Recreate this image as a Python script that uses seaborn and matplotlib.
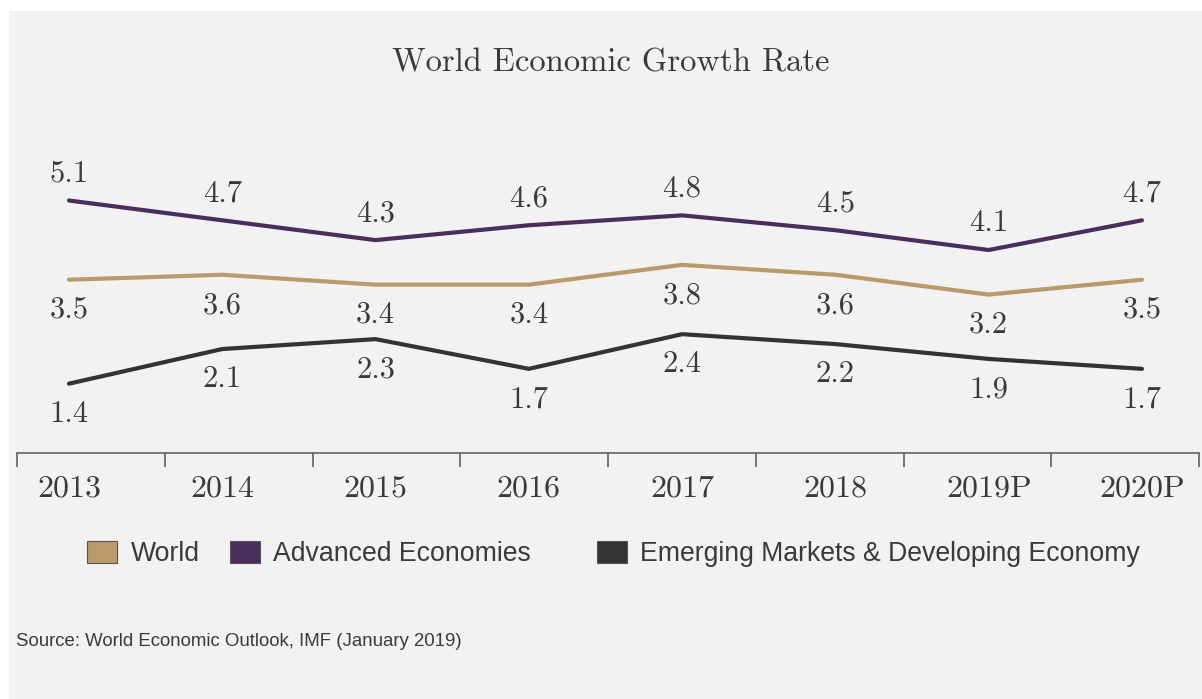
import matplotlib
matplotlib.use("Agg")
import matplotlib.pyplot as plt
from matplotlib.patches import Patch, Rectangle
import numpy as np
import pandas as pd
import seaborn as sns

# ---- data ----
years = ["2013", "2014", "2015", "2016", "2017", "2018", "2019P", "2020P"]
world = [3.5, 3.6, 3.4, 3.4, 3.8, 3.6, 3.2, 3.5]
advanced = [5.1, 4.7, 4.3, 4.6, 4.8, 4.5, 4.1, 4.7]
emerging = [1.4, 2.1, 2.3, 1.7, 2.4, 2.2, 1.9, 1.7]
series_names = ["World", "Advanced Economies", "Emerging Markets & Developing Economy"]
title = "World Economic Growth Rate"
source = "Source: World Economic Outlook, IMF (January 2019)"

colors = {"World": "#b99a6a",
          "Advanced Economies": "#4b2d5b",
          "Emerging Markets & Developing Economy": "#333333"}
label_offset = {"World": -22, "Advanced Economies": 19,
                "Emerging Markets & Developing Economy": -22}

sns.set_theme(style="white")
plt.rcParams["font.family"] = ["Liberation Sans", "DejaVu Sans"]

W, H = 1202, 699
fig = plt.figure(figsize=(W / 100, H / 100), dpi=100)
fig.patch.set_facecolor("white")
fig.patches.append(Rectangle((9 / W, 0), 1 - 9 / W, (H - 11) / H,
                             transform=fig.transFigure, facecolor="#f2f2f2",
                             edgecolor="none", zorder=-10))

ax = fig.add_axes([17 / W, (H - 453) / H, (1199 - 17) / W, (453 - 150) / H])
ax.set_facecolor("none")

pos = list(range(len(years)))
df = pd.DataFrame({
    "pos": pos * 3,
    "value": world + advanced + emerging,
    "series": [series_names[0]] * len(years) + [series_names[1]] * len(years)
              + [series_names[2]] * len(years),
})

sns.lineplot(data=df, x="pos", y="value", hue="series", palette=colors,
             hue_order=series_names, linewidth=3, legend=False, ax=ax)

txtcol = "#3a3a3a"
for name, vals in zip(series_names, [world, advanced, emerging]):
    off = label_offset[name]
    for x, v in zip(pos, vals):
        ax.annotate(f"{v:.1f}", (x, v), xytext=(0, off),
                    textcoords="offset points", ha="center", va="center",
                    fontsize=22, color=txtcol, family="cmr10")

xl = (-0.339, 7.372)
ax.set_xlim(*xl)
ax.set_ylim(0, 6.12)
ax.set_xticks(pos)
ax.set_xticklabels(years, family="cmr10", fontsize=23, color=txtcol)
ax.set_xticks(np.linspace(xl[0], xl[1], 9), minor=True)
ax.tick_params(axis="x", which="major", length=0, pad=16)
ax.tick_params(axis="x", which="minor", length=10, width=1.1,
               color="#555555", direction="out", bottom=True)
ax.set_yticks([])
ax.set_xlabel("")
ax.set_ylabel("")
for s in ["left", "right", "top"]:
    ax.spines[s].set_visible(False)
ax.spines["bottom"].set_color("#555555")
ax.spines["bottom"].set_linewidth(1.1)

fig.text(611 / W, 1 - 63 / H, title, ha="center", va="center",
         family="cmr10", fontsize=23.5, color=txtcol)

# legend: three groups positioned like the original
leg_x = [87, 230, 597]
for name, lx in zip(series_names, leg_x):
    h = [Patch(facecolor=colors[name], edgecolor="#555555", linewidth=0.8)]
    lg = fig.legend(h, [name], loc="center left",
                    bbox_to_anchor=(lx / W, 1 - 554 / H), frameon=False,
                    fontsize=19.2, handlelength=1.13, handleheight=0.9,
                    handletextpad=0.5, borderpad=0, borderaxespad=0)
    for t in lg.get_texts():
        t.set_color(txtcol)

fig.text(16 / W, 1 - 642 / H, source, ha="left", va="center",
         fontsize=13.4, color=txtcol)

fig.savefig("out.png", dpi=100, facecolor=fig.get_facecolor())
